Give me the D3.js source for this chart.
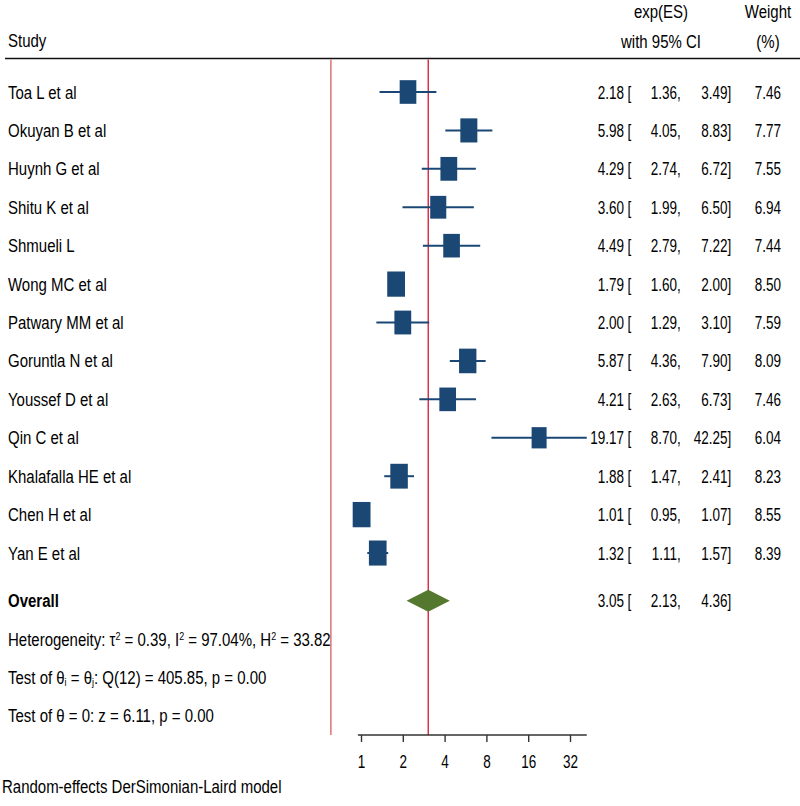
<!DOCTYPE html>
<html>
<head>
<meta charset="utf-8">
<script src="https://cdn.jsdelivr.net/npm/d3@7"></script>
<style>
  html, body { margin: 0; padding: 0; background: #fff; }
  svg text { font-family: "Liberation Sans", Arial, sans-serif; fill: #000; }
</style>
</head>
<body>
<svg id="chart" width="800" height="806"></svg>
<script>
// ---------------- data ----------------
const studies = ["Toa L et al", "Okuyan B et al", "Huynh G et al", "Shitu K et al", "Shmueli L",
  "Wong MC et al", "Patwary MM et al", "Goruntla N et al", "Youssef D et al", "Qin C et al",
  "Khalafalla HE et al", "Chen H et al", "Yan E et al"];
const es     = [2.18, 5.98, 4.29, 3.60, 4.49, 1.79, 2.00, 5.87, 4.21, 19.17, 1.88, 1.01, 1.32];
const lower  = [1.36, 4.05, 2.74, 1.99, 2.79, 1.60, 1.29, 4.36, 2.63, 8.70, 1.47, 0.95, 1.11];
const upper  = [3.49, 8.83, 6.72, 6.50, 7.22, 2.00, 3.10, 7.90, 6.73, 42.25, 2.41, 1.07, 1.57];
const weight = [7.46, 7.77, 7.55, 6.94, 7.44, 8.50, 7.59, 8.09, 7.46, 6.04, 8.23, 8.55, 8.39];
const overall = { label: "Overall", es: 3.05, lower: 2.13, upper: 4.36 };
const tickValues = [1, 2, 4, 8, 16, 32];
const leftLineValue = 0.607;
const noteText = "Random-effects DerSimonian-Laird model";

// ---------------- layout ----------------
const svg = d3.select("#chart");
const FS = 18.5;      // font size
const SX = 0.81;      // horizontal condensation for words
const SXN = 0.73;     // horizontal condensation for numeric columns
const navy = "#1a4774";
const green = "#55782f";
const red = "#d9243f";
const pink = "#d86a6e";

const x = d3.scaleLog().base(2).domain([1, 32]).range([361, 570]);
const rowY = d3.scaleLinear().domain([0, 1]).range([92, 130.42]);
const overallIdx = 13.24;
const axisY = 735;
const plotTop = 59.5;
const BL = 6.5; // baseline offset from row centre

function txt(parent, px, py, str, anchor, sx) {
  const t = parent.append("text")
    .attr("transform", `translate(${px},${py}) scale(${sx || SX},1)`)
    .attr("text-anchor", anchor || "start")
    .style("font-size", FS + "px");
  if (str != null) t.text(str);
  return t;
}

// header
txt(svg, 8, 47, "Study");
txt(svg, 661, 18, "exp(ES)", "middle");
txt(svg, 661, 48, "with 95% CI", "middle");
txt(svg, 768, 18, "Weight", "middle");
txt(svg, 768, 48, "(%)", "middle");
svg.append("line").attr("x1", 5).attr("x2", 800).attr("y1", 58.5).attr("y2", 58.5)
  .attr("stroke", "#111").attr("stroke-width", 1.6);

// vertical reference lines
svg.append("line").attr("x1", x(leftLineValue)).attr("x2", x(leftLineValue))
  .attr("y1", plotTop).attr("y2", axisY).attr("stroke", pink).attr("stroke-width", 1.4);
svg.append("line").attr("x1", x(overall.es)).attr("x2", x(overall.es))
  .attr("y1", plotTop).attr("y2", axisY).attr("stroke", red).attr("stroke-width", 1.4);

function ciText(parent, ty, e, lo, hi) {
  txt(parent, 624, ty, e.toFixed(2), "end", SXN);
  txt(parent, 627.5, ty, "[", "start", SXN);
  txt(parent, 677, ty, lo.toFixed(2), "end", SXN);
  txt(parent, 677, ty, ",", "start", SXN);
  txt(parent, 727.5, ty, hi.toFixed(2), "end", SXN);
  txt(parent, 727.5, ty, "]", "start", SXN);
}

// study rows
const rows = studies.map((s, i) => ({ s, es: es[i], lo: lower[i], hi: upper[i], w: weight[i], i }));
const g = svg.append("g");
rows.forEach(d => {
  const cy = rowY(d.i);
  g.append("line").attr("x1", x(d.lo)).attr("x2", x(d.hi)).attr("y1", cy).attr("y2", cy)
    .attr("stroke", navy).attr("stroke-width", 2);
  const bw = 6.1 * Math.sqrt(d.w), bh = 8.65 * Math.sqrt(d.w);
  g.append("rect").attr("x", x(d.es) - bw / 2).attr("y", cy - bh / 2).attr("width", bw).attr("height", bh)
    .attr("fill", navy);
  const ty = cy + BL;
  txt(g, 8, ty, d.s);
  ciText(g, ty, d.es, d.lo, d.hi);
  txt(g, 781, ty, d.w.toFixed(2), "end", SXN);
});

// overall
{
  const cy = rowY(overallIdx);
  const hh = 11;
  const pts = [[x(overall.lower), cy], [x(overall.es), cy - hh], [x(overall.upper), cy], [x(overall.es), cy + hh]];
  svg.append("polygon").attr("points", pts.map(p => p.join(",")).join(" ")).attr("fill", green);
  const ty = cy + BL;
  txt(svg, 8, ty, overall.label).style("font-weight", "bold");
  ciText(svg, ty, overall.es, overall.lower, overall.upper);
}

// footer statistics
function richText(px, py, parts) {
  const t = txt(svg, px, py, null);
  parts.forEach(p => {
    const ts = t.append("tspan").text(p.t);
    if (p.sup) ts.attr("baseline-shift", "55%").style("font-size", "11px");
    if (p.sub) ts.attr("baseline-shift", "-20%").style("font-size", "11px");
  });
  return t;
}
const fy = i => rowY(overallIdx + 1 + i) + BL;
richText(8, fy(0), [
  { t: "Heterogeneity: τ" }, { t: "2", sup: true }, { t: " = 0.39, I" }, { t: "2", sup: true },
  { t: " = 97.04%, H" }, { t: "2", sup: true }, { t: " = 33.82" }]);
richText(8, fy(1), [
  { t: "Test of θ" }, { t: "i", sub: true }, { t: " = θ" }, { t: "j", sub: true }, { t: ": Q(12) = 405.85, p = 0.00" }]);
richText(8, fy(2), [{ t: "Test of θ = 0: z = 6.11, p = 0.00" }]);

// axis
svg.append("line").attr("x1", x(d3.min(lower))).attr("x2", x(d3.max(upper)))
  .attr("y1", axisY).attr("y2", axisY).attr("stroke", "#333").attr("stroke-width", 1.4);
const ax = svg.append("g").attr("transform", `translate(0,${axisY})`)
  .call(d3.axisBottom(x).tickValues(tickValues).tickFormat(d3.format("d")).tickSize(7).tickPadding(4));
ax.select(".domain").remove();
ax.selectAll(".tick line").attr("stroke", "#333").attr("stroke-width", 1.4);
ax.selectAll(".tick text")
  .attr("y", null).attr("dy", null)
  .attr("transform", `translate(0,33) scale(${SXN},1)`)
  .style("font-size", FS + "px").style("font-family", null).attr("fill", "#000");

// note
txt(svg, 2, 793, noteText);
</script>
</body>
</html>
